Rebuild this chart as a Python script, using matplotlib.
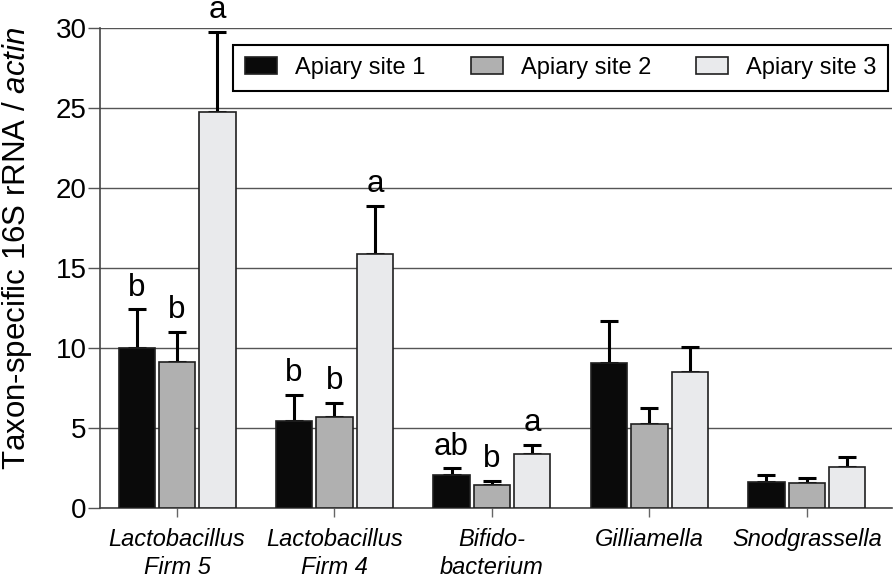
import numpy as np
import matplotlib
matplotlib.use("Agg")
import matplotlib.pyplot as plt

plt.rcParams['font.family'] = ['Liberation Sans', 'DejaVu Sans']
plt.rcParams['mathtext.fontset'] = 'custom'
plt.rcParams['mathtext.rm'] = 'Liberation Sans'
plt.rcParams['mathtext.it'] = 'Liberation Sans:italic'

# data
taxa = ["Lactobacillus\nFirm 5", "Lactobacillus\nFirm 4", "Bifido-\nbacterium",
        "Gilliamella", "Snodgrassella"]
sites = ["Apiary site 1", "Apiary site 2", "Apiary site 3"]
site1 = [9.98, 5.46, 2.06, 9.06, 1.65]
site2 = [9.12, 5.67, 1.44, 5.23, 1.58]
site3 = [24.77, 15.85, 3.35, 8.48, 2.54]
site1_err = [2.45, 1.60, 0.42, 2.65, 0.43]
site2_err = [1.88, 0.89, 0.27, 1.04, 0.29]
site3_err = [5.00, 3.05, 0.61, 1.56, 0.65]
site1_lett = ["b", "b", "ab", "", ""]
site2_lett = ["b", "b", "b", "", ""]
site3_lett = ["a", "a", "a", "", ""]

colors = ['#0a0a0a', '#b0b0b0', '#e9eaec']

fig = plt.figure(figsize=(8.93, 5.79), dpi=100)
ax = fig.add_axes([100/893, 1-508/579, 792/893, 480/579])

x = np.arange(len(taxa))
step = 0.257
width = 0.229
series = [(site1, site1_err, site1_lett), (site2, site2_err, site2_lett),
          (site3, site3_err, site3_lett)]

for i, (vals, errs, letts) in enumerate(series):
    pos = x + (i - 1) * step
    ax.bar(pos, vals, width, color=colors[i], edgecolor='#202020', linewidth=1.2,
           label=sites[i], zorder=3)
    ax.errorbar(pos, vals, yerr=[np.zeros(len(vals)), errs], fmt='none',
                ecolor='black', elinewidth=2.2, capsize=6.8, capthick=2.2, zorder=2)
    for p, v, e, t in zip(pos, vals, errs, letts):
        if t:
            ax.annotate(t, (p, v + e), xytext=(0, 9.8), textcoords='offset points',
                        ha='center', va='baseline', fontsize=22.5, annotation_clip=False)

ax.set_xlim(-0.489, 4.54)
ax.set_ylim(0, 30)
ax.set_yticks(np.arange(0, 31, 5))
ax.yaxis.grid(True, color='#555555', linewidth=1.0, zorder=0)
ax.set_axisbelow(True)

ax.set_xticks(x)
ax.set_xticklabels(taxa, fontsize=17, style='italic', linespacing=1.25)
ax.tick_params(axis='x', length=6.5, width=1, color='#666666', pad=8)
ax.tick_params(axis='y', labelsize=20, length=8.5, width=1, color='#555555', pad=1)

for s in ['top', 'right']:
    ax.spines[s].set_visible(False)
ax.spines['left'].set_color('#444444')
ax.spines['left'].set_linewidth(1.2)
ax.spines['bottom'].set_color('#444444')
ax.spines['bottom'].set_linewidth(1.2)

ax.set_ylabel(r'Taxon-specific 16S rRNA / $\mathit{actin}$', fontsize=22.5)
ax.yaxis.set_label_coords(-0.083, 0.542)

leg = ax.legend(loc='upper right', bbox_to_anchor=(0.995, 0.9646), ncol=3,
                fontsize=17, frameon=True, fancybox=False, framealpha=1,
                edgecolor='black', handlelength=1.36, handleheight=0.72,
                handletextpad=0.76, columnspacing=1.9, borderpad=0.5,
                borderaxespad=0)
leg.get_frame().set_linewidth(1.5)

fig.savefig('out.png', dpi=100)
